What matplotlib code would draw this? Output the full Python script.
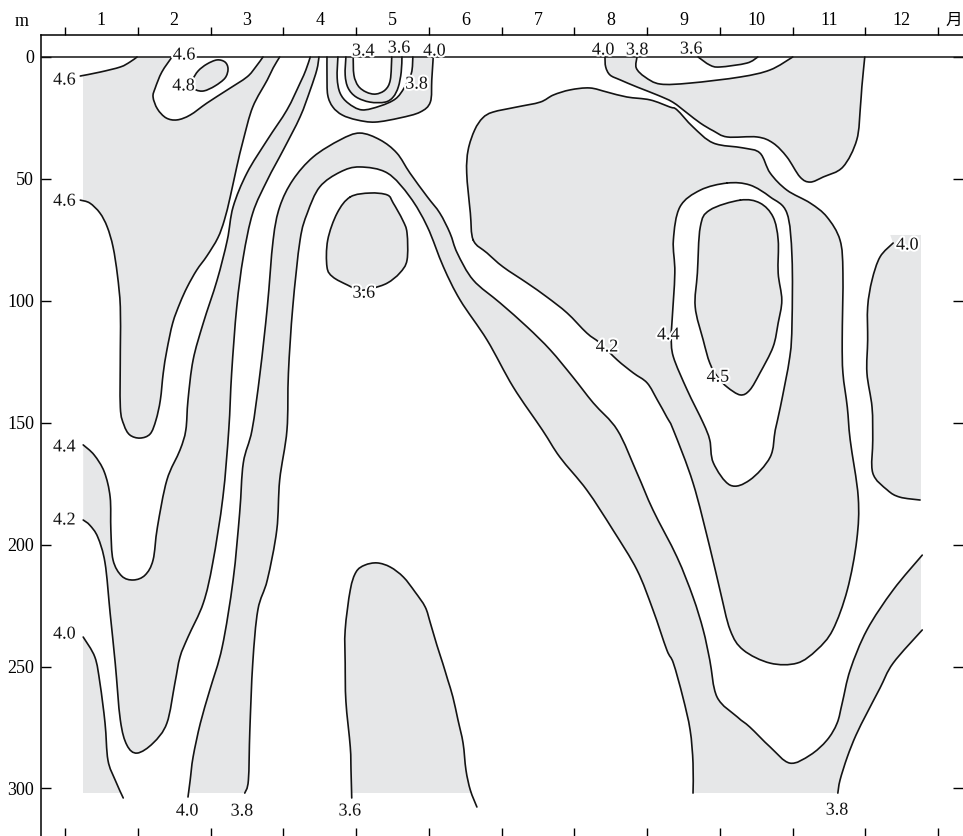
import matplotlib.pyplot as plt
import matplotlib.patheffects as pe
from matplotlib.patches import PathPatch, Rectangle
from matplotlib.path import Path

plt.rcParams['font.family'] = ['Liberation Serif', 'Noto Sans CJK JP']

months = list(range(1, 13))
month_edges = [m + 0.5 for m in range(13)]
depth_ticks = [0, 50, 100, 150, 200, 250, 300]

# sampled part of the section (month, depth in m)
first_month, last_month, max_depth = 0.75, 12.26, 302
dec_top_depth = 73   # casts at the end of the year start below this depth

# isotherm traces, (month, depth) pairs
iso_46_top = [(0.71, 7.8), (0.98, 6.2), (1.26, 4.1), (1.39, 2.1), (1.49, 0.0)]
iso_46_loop = [(1.97, 0.0), (1.83, 6.2), (1.74, 12.7), (1.71, 16.4), (1.77, 21.3), (1.89, 25.0),
               (2.04, 25.8), (2.22, 23.8), (2.45, 18.9), (2.73, 13.5), (3.00, 8.2), (3.12, 4.1),
               (3.22, 0.0)]
iso_48_core = [(2.25, 9.4), (2.33, 5.7), (2.45, 2.9), (2.59, 1.2), (2.70, 2.1), (2.74, 4.9),
               (2.70, 8.6), (2.56, 11.9), (2.41, 13.9), (2.30, 13.5), (2.23, 11.5), (2.25, 9.4)]
iso_46_tongue = [(0.71, 58.7), (0.84, 59.9), (0.98, 64.0), (1.08, 69.7), (1.16, 77.9), (1.22, 89.4),
                 (1.26, 102.5), (1.26, 120.2), (1.26, 143.6), (1.31, 150.9), (1.39, 155.0),
                 (1.53, 156.3), (1.67, 154.6), (1.75, 148.9), (1.81, 140.7), (1.85, 129.6),
                 (1.90, 120.2), (1.98, 109.1), (2.08, 100.9), (2.18, 94.3), (2.31, 87.4),
                 (2.45, 81.6), (2.60, 74.2), (2.69, 66.9), (2.77, 57.4), (2.86, 45.1),
                 (2.95, 34.0), (3.08, 20.5), (3.28, 9.4), (3.36, 4.5), (3.45, 0.0)]
iso_44_west = [(3.87, 0.0), (3.81, 5.3), (3.73, 10.7), (3.55, 21.7), (3.28, 34.0), (3.00, 47.6),
               (2.81, 61.5), (2.73, 75.1), (2.59, 91.5), (2.40, 109.1), (2.26, 124.3),
               (2.19, 140.7), (2.16, 153.0), (2.08, 161.2), (1.90, 173.5), (1.77, 192.8),
               (1.71, 206.3), (1.60, 212.5), (1.44, 214.5), (1.28, 212.9), (1.16, 206.3),
               (1.13, 194.0), (1.12, 180.5), (1.04, 170.2), (0.90, 163.2), (0.75, 159.1)]
iso_42_west = [(3.99, 0.0), (3.96, 5.3), (3.87, 13.5), (3.73, 24.6), (3.50, 38.1), (3.28, 50.5),
               (3.08, 64.0), (2.95, 82.0), (2.86, 102.5), (2.79, 129.6), (2.75, 153.0),
               (2.67, 180.5), (2.53, 207.5), (2.40, 224.0), (2.19, 237.9), (2.08, 246.1),
               (2.01, 256.8), (1.90, 273.2), (1.71, 281.4), (1.49, 285.5), (1.35, 282.2),
               (1.26, 271.9), (1.19, 248.6), (1.12, 228.1), (1.05, 207.5), (0.95, 196.9),
               (0.84, 192.0), (0.75, 189.9)]
iso_40_edge = [(0.75, 237.9), (0.91, 246.1), (0.98, 256.8), (1.05, 273.2), (1.09, 288.4),
               (1.19, 296.6), (1.30, 303.9)]
iso_40_arch = [(2.19, 303.5), (2.22, 296.6), (2.26, 287.1), (2.36, 273.2), (2.49, 259.6),
               (2.66, 242.0), (2.81, 214.5), (2.90, 187.0), (2.95, 166.5), (3.07, 153.0),
               (3.18, 129.6), (3.28, 102.5), (3.36, 75.1), (3.45, 61.5), (3.63, 50.5),
               (3.91, 41.0), (4.28, 34.0), (4.55, 31.2), (4.83, 34.0), (5.06, 39.4),
               (5.24, 47.6), (5.48, 57.4), (5.65, 64.0), (5.79, 72.2), (5.89, 80.4),
               (6.11, 91.5), (6.48, 100.9), (6.85, 110.7), (7.17, 120.2), (7.48, 131.3),
               (7.76, 141.9), (8.09, 153.0), (8.36, 170.6), (8.58, 185.8), (8.91, 205.1),
               (9.13, 221.5), (9.27, 235.0), (9.36, 247.3), (9.46, 262.5), (9.74, 270.7),
               (9.91, 274.8), (10.19, 283.0), (10.46, 289.6), (10.74, 286.3), (10.97, 280.2),
               (11.11, 273.2), (11.18, 265.0), (11.29, 251.4), (11.52, 235.0), (11.88, 218.6),
               (12.28, 204.3)]
iso_38_arch = [(2.97, 301.9), (3.02, 296.6), (3.04, 276.0), (3.08, 248.6), (3.15, 226.8),
               (3.28, 214.5), (3.41, 194.0), (3.45, 173.5), (3.55, 153.0), (3.57, 129.6),
               (3.63, 102.5), (3.73, 75.1), (3.83, 64.0), (4.00, 53.3), (4.28, 47.2),
               (4.55, 45.1), (4.93, 47.6), (5.24, 57.4), (5.48, 69.7), (5.70, 86.1),
               (5.93, 99.7), (6.30, 116.1), (6.66, 135.4), (7.06, 153.0), (7.30, 164.1),
               (7.67, 177.6), (8.03, 194.0), (8.36, 210.4), (8.58, 226.8), (8.77, 243.2),
               (8.86, 248.6), (8.99, 262.5), (9.09, 276.0), (9.13, 289.6), (9.13, 301.9)]
iso_38_east = [(11.12, 301.9), (11.15, 296.6), (11.25, 287.1), (11.37, 278.1), (11.52, 269.1),
               (11.70, 258.8), (11.88, 248.6), (12.28, 235.0)]
iso_36_core = [(4.42, 57.4), (4.24, 64.0), (4.11, 75.1), (4.10, 86.1), (4.18, 90.2), (4.38, 93.5),
               (4.55, 95.6), (4.73, 94.8), (4.93, 92.7), (5.10, 88.6), (5.20, 83.3), (5.20, 72.2),
               (5.14, 66.9), (5.01, 59.9), (4.93, 56.6), (4.69, 55.8), (4.42, 57.4)]
iso_36_floor = [(4.44, 303.9), (4.43, 292.5), (4.42, 283.0), (4.36, 264.3), (4.35, 248.6),
                (4.35, 235.0), (4.42, 218.6), (4.50, 211.2), (4.62, 208.4), (4.79, 207.5),
                (4.97, 209.2), (5.15, 213.3), (5.31, 219.4), (5.45, 225.6), (5.52, 232.1),
                (5.61, 241.2), (5.69, 248.6), (5.76, 255.5), (5.83, 262.5), (5.90, 271.9),
                (5.97, 281.4), (6.01, 292.5), (6.07, 300.7), (6.16, 307.6)]
iso_40_cap = [(4.10, 0.0), (4.10, 7.4), (4.11, 15.6), (4.18, 20.5), (4.31, 23.8), (4.51, 25.8),
              (4.76, 26.7), (5.10, 25.0), (5.38, 22.6), (5.52, 18.5), (5.54, 9.4), (5.56, 0.0)]
iso_38_cap = [(4.25, 0.0), (4.24, 8.6), (4.28, 14.8), (4.39, 18.9), (4.58, 21.7), (4.83, 20.1),
              (5.04, 17.2), (5.16, 12.7), (5.26, 6.6), (5.28, 0.0)]
iso_36_cap = [(4.36, 0.0), (4.35, 7.4), (4.39, 12.7), (4.50, 16.4), (4.69, 18.5), (4.90, 18.5),
              (5.01, 16.4), (5.08, 12.3), (5.12, 6.2), (5.13, 0.0)]
iso_34_cap = [(4.46, 0.0), (4.47, 7.4), (4.53, 11.9), (4.64, 14.4), (4.77, 15.2), (4.90, 13.5),
              (4.97, 9.4), (4.99, 0.0)]
iso_40_band = [(7.92, 0.0), (7.93, 4.1), (7.99, 7.4), (8.13, 9.4), (8.36, 12.3), (8.64, 15.6),
               (8.85, 18.5), (9.05, 23.0), (9.23, 27.1), (9.41, 30.3), (9.60, 32.8),
               (10.01, 32.8), (10.23, 35.3), (10.42, 41.0), (10.60, 49.2), (10.74, 51.3),
               (10.92, 49.2), (11.19, 45.1), (11.38, 34.0), (11.43, 20.5), (11.45, 12.3),
               (11.49, 0.0)]
iso_38_top = [(8.36, 0.0), (8.35, 4.5), (8.47, 8.2), (8.68, 11.1), (9.09, 10.7), (9.78, 8.2),
              (10.19, 5.3), (10.50, 0.0)]
iso_36_top = [(9.20, 0.0), (9.36, 3.3), (9.50, 4.1), (9.87, 2.5), (10.02, 0.0)]
iso_42_blob = [(6.11, 75.1), (6.07, 64.0), (6.02, 47.6), (6.04, 38.1), (6.13, 29.9), (6.24, 25.0),
               (6.38, 22.6), (6.71, 20.5), (7.03, 18.5), (7.21, 15.6), (7.44, 13.5), (7.71, 12.7),
               (7.95, 14.4), (8.22, 16.4), (8.54, 17.6), (8.81, 20.5), (8.91, 21.7), (9.13, 28.7),
               (9.41, 35.3), (9.82, 37.3), (10.05, 39.4), (10.19, 47.6), (10.42, 54.6),
               (10.74, 59.9), (10.97, 65.6), (11.15, 75.1), (11.19, 88.6), (11.18, 116.1),
               (11.19, 129.6), (11.25, 143.6), (11.29, 157.1), (11.40, 180.5), (11.38, 198.1),
               (11.25, 218.6), (11.05, 235.0), (10.83, 243.2), (10.56, 248.6), (10.19, 248.6),
               (9.82, 243.2), (9.64, 235.0), (9.50, 218.6), (9.36, 201.0), (9.13, 174.7),
               (8.86, 153.0), (8.77, 147.7), (8.64, 140.7), (8.50, 133.7), (8.31, 129.6),
               (8.09, 124.3), (7.85, 117.3), (7.67, 113.2), (7.40, 105.0), (7.12, 98.4),
               (6.85, 92.7), (6.52, 86.1), (6.30, 80.4), (6.11, 75.1)]
iso_44_ring = [(9.60, 51.7), (9.91, 52.5), (10.19, 57.4), (10.42, 64.0), (10.49, 82.0),
               (10.49, 109.1), (10.46, 123.0), (10.33, 143.6), (10.26, 153.0), (10.19, 164.1),
               (9.91, 173.5), (9.64, 175.6), (9.41, 166.5), (9.36, 157.1), (9.27, 150.1),
               (9.05, 136.6), (8.86, 123.0), (8.83, 114.8), (8.84, 109.1), (8.88, 88.6),
               (8.86, 75.1), (8.95, 61.5), (9.23, 54.6), (9.60, 51.7)]
iso_45_core = [(9.78, 58.7), (10.05, 59.9), (10.23, 65.6), (10.30, 75.1), (10.30, 88.6),
               (10.35, 99.7), (10.30, 109.1), (10.23, 118.9), (10.05, 129.6), (9.91, 136.6),
               (9.78, 138.6), (9.60, 135.4), (9.47, 131.3), (9.36, 125.5), (9.27, 116.1),
               (9.16, 102.5), (9.19, 88.6), (9.23, 69.7), (9.36, 62.8), (9.78, 58.7)]
iso_40_east = [(11.88, 76.3), (11.70, 82.0), (11.59, 91.5), (11.53, 102.5), (11.53, 116.1),
               (11.52, 129.6), (11.59, 143.6), (11.60, 157.1), (11.60, 170.6), (11.80, 177.6),
               (11.97, 180.5), (12.25, 181.7)]

isotherms = [
    (4.6, iso_46_top), (4.6, iso_46_loop), (4.8, iso_48_core), (4.6, iso_46_tongue),
    (4.4, iso_44_west), (4.2, iso_42_west), (4.0, iso_40_edge), (4.0, iso_40_arch),
    (3.8, iso_38_arch), (3.8, iso_38_east), (3.6, iso_36_core), (3.6, iso_36_floor),
    (4.0, iso_40_cap), (3.8, iso_38_cap), (3.6, iso_36_cap), (3.4, iso_34_cap),
    (4.0, iso_40_band), (3.8, iso_38_top), (3.6, iso_36_top), (4.2, iso_42_blob),
    (4.4, iso_44_ring), (4.5, iso_45_core), (4.0, iso_40_east),
]

GRAY = '#e6e7e8'
WHITE = 'white'
INK = '#141414'
FS = 13


def bezier_through(pts):
    # Catmull-Rom pieces as cubic Bezier control points through every vertex
    closed = pts[0] == pts[-1] and len(pts) > 3
    n = len(pts)
    out = []
    for i in range(n - 1):
        p0 = pts[i - 1] if i > 0 else (pts[-2] if closed else pts[0])
        p1, p2 = pts[i], pts[i + 1]
        p3 = pts[i + 2] if i + 2 < n else (pts[1] if closed else pts[-1])
        c1 = (p1[0] + (p2[0] - p0[0]) / 6, p1[1] + (p2[1] - p0[1]) / 6)
        c2 = (p2[0] - (p3[0] - p1[0]) / 6, p2[1] - (p3[1] - p1[1]) / 6)
        out += [c1, c2, p2]
    return out


def build_path(parts, close):
    # parts: ('curve', trace) or ('edge', straight boundary points)
    verts, codes = [], []
    for kind, pts in parts:
        verts.append(pts[0])
        codes.append(Path.LINETO if verts[:-1] else Path.MOVETO)
        if kind == 'curve':
            seg = bezier_through(pts)
            verts += seg
            codes += [Path.CURVE4] * len(seg)
        else:
            verts += pts[1:]
            codes += [Path.LINETO] * (len(pts) - 1)
    if close:
        verts.append(verts[0])
        codes.append(Path.CLOSEPOLY)
    return Path(verts, codes)


fig = plt.figure(figsize=(9.63, 8.36), dpi=100)
ax = fig.add_axes([41 / 963, 0, 922 / 963, 801 / 836])
ax.set_xlim(0.170, 12.84)
ax.set_ylim(319.5, -9.02)

clip = Rectangle((first_month, 0), last_month - first_month, max_depth,
                 transform=ax.transData)

lo, hi = first_month - 0.2, last_month + 0.2
deep = max_depth + 10


def shade(parts, color, z):
    p = PathPatch(build_path(parts, True), facecolor=color, edgecolor='none', zorder=z)
    ax.add_patch(p)
    p.set_clip_path(clip)


def C(pts):
    return ('curve', pts)


def E(*pts):
    return ('edge', list(pts))


# bands drawn as layered regions, outer first
shade([C(iso_46_top), C(iso_46_tongue[::-1])], GRAY, 1)
shade([C(iso_46_loop)], WHITE, 2)
shade([C(iso_48_core)], GRAY, 3)
shade([C(iso_44_west), C(iso_42_west[::-1])], GRAY, 1)
shade([E((lo, iso_40_edge[0][1])), C(iso_40_edge),
       E((iso_40_edge[-1][0], deep), (lo, deep))], GRAY, 1)
shade([C(iso_40_arch), E((hi, iso_40_arch[-1][1]), (hi, deep), (iso_40_arch[0][0], deep))], GRAY, 1)
shade([C(iso_38_arch), E((iso_38_arch[-1][0], deep), (iso_38_arch[0][0], deep))], WHITE, 2)
shade([C(iso_38_east), E((hi, iso_38_east[-1][1]), (hi, deep), (iso_38_east[0][0], deep))], WHITE, 2)
shade([C(iso_36_core)], GRAY, 3)
shade([C(iso_36_floor), E((iso_36_floor[-1][0], deep), (iso_36_floor[0][0], deep))], GRAY, 3)
shade([C(iso_40_cap)], GRAY, 1)
shade([C(iso_38_cap)], WHITE, 2)
shade([C(iso_36_cap)], GRAY, 3)
shade([C(iso_34_cap)], WHITE, 4)
shade([C(iso_40_band)], GRAY, 1)
shade([C(iso_38_top)], WHITE, 2)
shade([C(iso_36_top)], GRAY, 3)
shade([C(iso_42_blob)], GRAY, 1)
shade([C(iso_44_ring)], WHITE, 2)
shade([C(iso_45_core)], GRAY, 3)
shade([E((iso_40_east[0][0] - 0.04, dec_top_depth)), C(iso_40_east),
       E((hi, iso_40_east[-1][1]), (hi, dec_top_depth))], GRAY, 1)

for value, pts in isotherms:
    line = PathPatch(build_path([C(pts)], False), facecolor='none', edgecolor=INK,
                     lw=1.2, capstyle='round', joinstyle='round', zorder=5)
    ax.add_patch(line)

ax.axhline(0, color=INK, lw=1.1, zorder=5)

# isotherm labels: (trace, vertex, value, offset in px)
labels = [
    (iso_46_top, 0, 4.6, (-16, -4)), (iso_46_loop, 0, 4.6, (12, 2)),
    (iso_48_core, 0, 4.8, (-9, -6)), (iso_46_tongue, 0, 4.6, (-16, -1)),
    (iso_44_west, -1, 4.4, (-19, -2)), (iso_42_west, -1, 4.2, (-19, 0)),
    (iso_40_edge, 0, 4.0, (-19, 3)), (iso_40_arch, 0, 4.0, (-1, -14)),
    (iso_38_arch, 0, 3.8, (-3, -18)), (iso_36_floor, 0, 3.6, (-2, -13)),
    (iso_36_core, 6, 3.6, (4, -3)), (iso_34_cap, 0, 3.4, (10, 6)),
    (iso_36_cap, -1, 3.6, (-3, 9)), (iso_40_cap, -1, 4.0, (1, 6)),
    (iso_38_cap, 8, 3.8, (5, -11)), (iso_40_band, 0, 4.0, (-2, 7)),
    (iso_38_top, 0, 3.8, (0, 7)), (iso_36_top, 0, 3.6, (-7, 8)),
    (iso_42_blob, 49, 4.2, (7, -4)), (iso_44_ring, 17, 4.4, (-3, 2)),
    (iso_45_core, 12, 4.5, (0, 0)), (iso_40_east, 0, 4.0, (14, -2)),
    (iso_38_east, 0, 3.8, (-1, -17)),
]
halo = [pe.withStroke(linewidth=3, foreground='white')]
for pts, i, value, off in labels:
    ax.annotate(f'{value:.1f}', pts[i], xytext=off, textcoords='offset pixels',
                ha='center', va='center', fontsize=FS, color=INK, zorder=6,
                path_effects=halo)

# month axis on top, month boundaries marked on both edges
ax.xaxis.set_ticks_position('top')
ax.set_xticks(month_edges)
ax.set_xticklabels([])
ax.set_xticks(months, minor=True)
ax.set_xticklabels([str(m) for m in months], minor=True)
ax.tick_params(axis='x', which='major', direction='out', length=6, width=1,
               top=True, bottom=False, labeltop=False, labelbottom=False)
ax.tick_params(axis='x', which='minor', length=0, top=True, bottom=False,
               labeltop=True, labelbottom=False, pad=4, labelsize=FS)

bot = ax.secondary_xaxis('bottom')
bot.set_xticks(month_edges)
bot.tick_params(direction='in', length=6, width=1, labelbottom=False)
bot.spines['bottom'].set_visible(False)

ax.set_yticks(depth_ticks)
ax.tick_params(axis='y', direction='in', length=7, width=1, left=True, right=True,
               labelsize=FS, pad=5)

for side in ('bottom', 'right'):
    ax.spines[side].set_visible(False)
for side in ('top', 'left'):
    ax.spines[side].set_linewidth(1.1)

fig.text(22 / 963, 1 - 21 / 836, 'm', ha='center', va='center', fontsize=FS)
fig.text(954 / 963, 1 - 21 / 836, '月', ha='center', va='center', fontsize=FS - 1)

plt.savefig('out.png', dpi=100)
